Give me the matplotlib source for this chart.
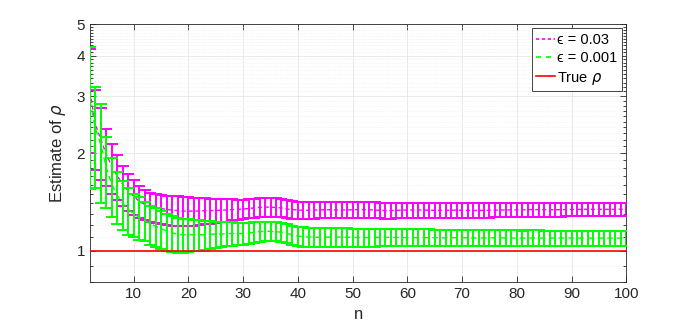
import numpy as np
import matplotlib
matplotlib.use("Agg")
import matplotlib.pyplot as plt
from matplotlib.lines import Line2D

plt.rcParams['font.family'] = ['Liberation Sans', 'DejaVu Sans']
plt.rcParams['mathtext.fontset'] = 'dejavusans'

# sample sizes
n = list(range(2, 101))

# estimate of rho, eps = 0.03 (mean and error half-width)
mean_003 = [3.09, 2.45, 2.20, 1.98, 1.82, 1.70, 1.60, 1.53, 1.47, 1.42,
            1.39, 1.37, 1.36, 1.35, 1.34, 1.335, 1.33, 1.325, 1.325, 1.325,
            1.325, 1.33, 1.33, 1.33, 1.335, 1.335, 1.34, 1.34, 1.345, 1.35,
            1.355, 1.36, 1.363, 1.363, 1.36, 1.355, 1.345, 1.34, 1.335,
            1.333, 1.333, 1.335, 1.337, 1.338, 1.338, 1.336, 1.335, 1.336, 1.338,
            1.34, 1.34, 1.338, 1.335, 1.332, 1.33, 1.33, 1.332, 1.334, 1.335,
            1.336, 1.336, 1.335, 1.333, 1.332, 1.332, 1.333, 1.334, 1.334, 1.333,
            1.332, 1.331, 1.331, 1.332, 1.333, 1.334, 1.335, 1.336, 1.336, 1.336,
            1.337, 1.338, 1.339, 1.339, 1.339, 1.338, 1.338, 1.339, 1.34, 1.341,
            1.341, 1.341, 1.342, 1.342, 1.342, 1.341, 1.341, 1.342, 1.343, 1.343]
err_003 = [1.09, 0.68, 0.55, 0.40, 0.32, 0.27, 0.23, 0.20, 0.18, 0.16,
           0.145, 0.14, 0.14, 0.14, 0.14, 0.14, 0.14, 0.137, 0.135, 0.13,
           0.126, 0.122, 0.118, 0.114, 0.11, 0.106, 0.10, 0.095, 0.09, 0.09,
           0.09, 0.092, 0.093, 0.093, 0.09, 0.088, 0.085, 0.083, 0.08,
           0.08, 0.079, 0.079, 0.078, 0.078, 0.077, 0.077, 0.077, 0.076, 0.076,
           0.076, 0.075, 0.075, 0.075, 0.074, 0.074, 0.073, 0.073, 0.073, 0.072,
           0.072, 0.071, 0.071, 0.071, 0.070, 0.070, 0.070, 0.069, 0.069, 0.069,
           0.068, 0.068, 0.068, 0.067, 0.067, 0.067, 0.066, 0.066, 0.066, 0.066,
           0.065, 0.065, 0.065, 0.065, 0.064, 0.064, 0.064, 0.064, 0.064, 0.063,
           0.063, 0.063, 0.063, 0.063, 0.062, 0.062, 0.062, 0.062, 0.062, 0.062]

# estimate of rho, eps = 0.001
mean_0001 = [2.90, 2.38, 2.12, 1.80, 1.60, 1.48, 1.40, 1.34, 1.30, 1.27,
             1.24, 1.21, 1.19, 1.17, 1.15, 1.135, 1.125, 1.12, 1.12, 1.12,
             1.12, 1.12, 1.125, 1.125, 1.125, 1.13, 1.13, 1.13, 1.13, 1.135,
             1.14, 1.145, 1.148, 1.148, 1.145, 1.14, 1.13, 1.12, 1.11,
             1.105, 1.102, 1.10, 1.10, 1.101, 1.102, 1.102, 1.101, 1.10, 1.10,
             1.099, 1.098, 1.098, 1.099, 1.10, 1.10, 1.10, 1.099, 1.098, 1.097,
             1.097, 1.097, 1.098, 1.098, 1.097, 1.096, 1.096, 1.096, 1.097, 1.097,
             1.096, 1.095, 1.095, 1.095, 1.096, 1.096, 1.096, 1.095, 1.094, 1.094,
             1.094, 1.095, 1.095, 1.095, 1.094, 1.094, 1.094, 1.094, 1.095, 1.095,
             1.095, 1.094, 1.094, 1.094, 1.094, 1.094, 1.094, 1.094, 1.094, 1.094]
err_0001 = [1.35, 0.82, 0.72, 0.45, 0.33, 0.27, 0.24, 0.22, 0.20, 0.19,
            0.17, 0.165, 0.16, 0.155, 0.15, 0.145, 0.14, 0.135, 0.13, 0.125,
            0.12, 0.115, 0.11, 0.105, 0.10, 0.097, 0.094, 0.091, 0.088, 0.085,
            0.082, 0.08, 0.078, 0.077, 0.077, 0.077, 0.077, 0.076, 0.076,
            0.075, 0.074, 0.074, 0.073, 0.073, 0.072, 0.072, 0.071, 0.071, 0.070,
            0.070, 0.069, 0.069, 0.069, 0.068, 0.068, 0.067, 0.067, 0.067, 0.066,
            0.066, 0.066, 0.065, 0.065, 0.065, 0.064, 0.064, 0.064, 0.063, 0.063,
            0.063, 0.063, 0.062, 0.062, 0.062, 0.062, 0.061, 0.061, 0.061, 0.061,
            0.060, 0.060, 0.060, 0.060, 0.060, 0.059, 0.059, 0.059, 0.059, 0.059,
            0.059, 0.058, 0.058, 0.058, 0.058, 0.058, 0.058, 0.058, 0.058, 0.058]

true_rho = 1.0
y_ticks = [1, 2, 3, 4, 5]
x_ticks = [10, 20, 30, 40, 50, 60, 70, 80, 90, 100]

fig = plt.figure(figsize=(6.92, 3.3), dpi=100)
ax = fig.add_axes([0.130, 0.145, 0.775, 0.782])

magenta = (1, 0, 1)
green = (0, 1, 0)

ax.errorbar(n, mean_003, yerr=err_003, color=magenta, ecolor=magenta,
            linestyle=(0, (3, 2)), linewidth=1.0, elinewidth=1.4,
            capsize=4.5, capthick=1.4, zorder=3)
ax.errorbar(n, mean_0001, yerr=err_0001, color=green, ecolor=green,
            linestyle=(0, (4, 3)), linewidth=1.0, elinewidth=1.4,
            capsize=4.5, capthick=1.4, zorder=4)
ax.axhline(true_rho, color='red', linewidth=1.2, zorder=5)

ax.set_yscale('log')
ax.set_ylim(0.8, 5)
ax.set_xlim(2, 100)
ax.set_yticks(y_ticks)
ax.set_yticklabels([str(t) for t in y_ticks])
ax.set_yticks([v for v in np.round(np.arange(0.8, 5.0, 0.1), 1) if v not in y_ticks],
              minor=True)
ax.yaxis.set_minor_formatter(matplotlib.ticker.NullFormatter())
ax.set_xticks(x_ticks)

tick_col = (0.15, 0.15, 0.15)
ax.tick_params(which='both', direction='in', top=True, right=True,
               colors=tick_col, labelsize=11, width=0.6)
ax.tick_params(which='major', length=4)
ax.tick_params(which='minor', length=2.5)
for s in ax.spines.values():
    s.set_color((0.15, 0.15, 0.15))
    s.set_linewidth(0.6)

ax.grid(True, which='major', color=(0.9, 0.9, 0.9), linewidth=0.6)
ax.grid(True, which='minor', axis='y', color=(0.92, 0.92, 0.92),
        linewidth=0.5, linestyle=':')
ax.set_axisbelow(True)

ax.set_xlabel('n', fontsize=12, color=tick_col)
ax.set_ylabel(r'Estimate of $\rho$', fontsize=12, color=tick_col, labelpad=6)

handles = [Line2D([], [], color=magenta, linestyle=(0, (2, 1.5)), linewidth=1.2),
           Line2D([], [], color=green, linestyle=(0, (3, 3)), linewidth=1.2),
           Line2D([], [], color='red', linewidth=1.2)]
labels = ['\u03f5 = 0.03', '\u03f5 = 0.001', r'True $\rho$']
leg = ax.legend(handles, labels, loc='upper right', fontsize=10.5,
                fancybox=False, framealpha=1, edgecolor=(0.15, 0.15, 0.15),
                handlelength=1.3, handletextpad=0.15, borderpad=0.3,
                labelspacing=0.3, borderaxespad=0.3)
leg.get_frame().set_linewidth(0.6)

fig.savefig('out.png', dpi=100)
